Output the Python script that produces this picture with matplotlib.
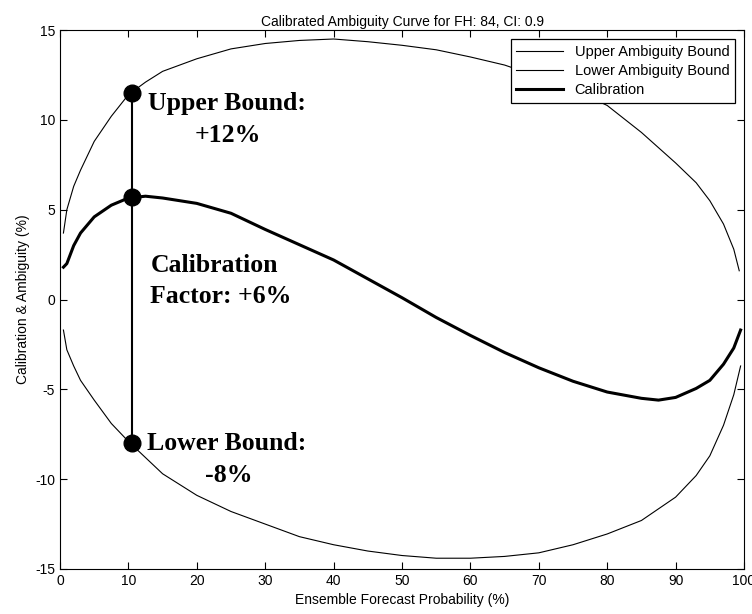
import numpy as np
import matplotlib
matplotlib.use("Agg")
import matplotlib.pyplot as plt

# values
x_upper = [0.5, 1, 2, 3, 5, 7.5, 10, 12.5, 15, 20, 25, 30, 35, 40, 45, 50, 55, 60,
           65, 70, 75, 80, 85, 90, 93, 95, 97, 98.5, 99.3]
y_upper = [3.7, 5.0, 6.3, 7.2, 8.8, 10.2, 11.4, 12.1, 12.7, 13.4, 13.95, 14.25, 14.42,
           14.5, 14.35, 14.15, 13.9, 13.5, 13.05, 12.4, 11.7, 10.8, 9.3, 7.6, 6.5,
           5.5, 4.2, 2.8, 1.6]

x_lower = [0.5, 1, 2, 3, 5, 7.5, 10, 12.5, 15, 20, 25, 30, 35, 40, 45, 50, 55, 60,
           65, 70, 75, 80, 85, 90, 93, 95, 97, 98.5, 99.5]
y_lower = [-1.7, -2.8, -3.7, -4.5, -5.6, -6.9, -7.9, -8.8, -9.7, -10.9, -11.8, -12.5,
           -13.2, -13.65, -14.0, -14.25, -14.4, -14.4, -14.3, -14.1, -13.65, -13.05,
           -12.3, -11.0, -9.8, -8.7, -7.0, -5.3, -3.7]

x_calib = [0.5, 1, 2, 3, 5, 7.5, 10, 12.5, 15, 20, 25, 30, 35, 40, 45, 50, 55, 60,
           65, 70, 75, 80, 85, 87.5, 90, 93, 95, 97, 98.5, 99.5]
y_calib = [1.8, 2.0, 3.0, 3.7, 4.6, 5.25, 5.65, 5.75, 5.65, 5.35, 4.8, 3.9, 3.05,
           2.2, 1.15, 0.1, -1.0, -2.0, -2.95, -3.8, -4.55, -5.15, -5.5, -5.6, -5.45,
           -4.95, -4.5, -3.6, -2.7, -1.7]

# marked probability and its bounds
mark_x = [10.5, 10.5, 10.5]
mark_y = [11.5, 5.7, -8.0]

plt.rcParams['font.family'] = ['Liberation Sans', 'DejaVu Sans']
plt.rcParams['axes.unicode_minus'] = False

fig = plt.figure(figsize=(7.52, 6.14), dpi=100)
ax = fig.add_axes([0.0798, 0.0733, 0.9096, 0.8778])

ax.plot(x_upper, y_upper, "k-", lw=0.8, label="Upper Ambiguity Bound")
ax.plot(x_lower, y_lower, "k-", lw=0.8, label="Lower Ambiguity Bound")
ax.plot(x_calib, y_calib, "k-", lw=2.2, label="Calibration")

ax.plot([mark_x[0], mark_x[2]], [mark_y[0], mark_y[2]], "k-", lw=1.5)
ax.plot(mark_x, mark_y, "ko", ms=12)

bold = dict(family="Liberation Serif", fontweight="bold", fontsize=18.5)
ax.text(12.9, 10.9, "Upper Bound:", ha="left", va="center", **bold)
ax.text(24.6, 9.15, "+12%", ha="center", va="center", **bold)
ax.text(13.2, 1.9, "Calibration", ha="left", va="center", **bold)
ax.text(13.2, 0.15, "Factor: +6%", ha="left", va="center", **bold)
ax.text(12.7, -8.0, "Lower Bound:", ha="left", va="center", **bold)
ax.text(24.6, -9.8, "-8%", ha="center", va="center", **bold)

ax.set_xlim(0, 100)
ax.set_ylim(-15, 15)
ax.set_xticks(np.arange(0, 101, 10))
ax.set_yticks(np.arange(-15, 16, 5))
ax.tick_params(direction="in", top=True, right=True, length=5, labelsize=10)
ax.set_xlabel("Ensemble Forecast Probability (%)", fontsize=10)
ax.set_ylabel("Calibration & Ambiguity (%)", fontsize=10)
ax.set_title("Calibrated Ambiguity Curve for FH: 84, CI: 0.9", fontsize=10, pad=3)

leg = ax.legend(loc="upper right", fancybox=False, edgecolor="black",
                fontsize=10.5, handlelength=3.2, borderaxespad=0.6,
                labelspacing=0.35, framealpha=1)
leg.get_frame().set_linewidth(0.9)

plt.savefig("out.png", dpi=100)
